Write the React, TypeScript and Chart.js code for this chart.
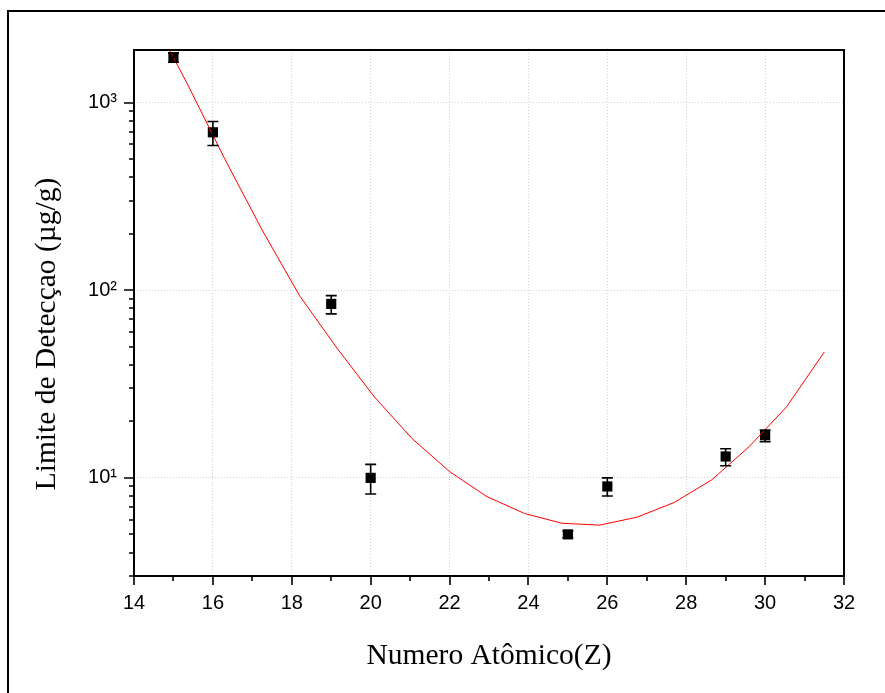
import React, { useEffect, useRef } from "react";
import { Chart, registerables } from "chart.js";

Chart.register(...registerables);

// Measured data: atomic number vs detection limit (µg/g)
const atomicNumbers = [15, 16, 19, 20, 25, 26, 29, 30];
const detectionLimits = [1740, 694, 84.5, 10, 5.0, 9.0, 13.0, 16.9];
const errorLow = [1640, 590, 74.8, 8.2, 4.8, 8.0, 11.6, 15.6];
const errorHigh = [1840, 792, 93.6, 11.8, 5.2, 10.0, 14.3, 18.0];

// Fitted curve (red)
const fitZ = [14.4, 15.35, 16.3, 17.25, 18.2, 19.15, 20.1, 21.05, 22.0, 22.95, 23.9, 24.85, 25.8, 26.75, 27.7, 28.65, 29.6, 30.55, 31.5];
const fitValues = [3020, 1259, 501, 209, 93.3, 49.0, 26.9, 16.2, 10.8, 7.94, 6.46, 5.73, 5.6, 6.17, 7.4, 9.77, 14.7, 24.0, 46.8];

// Axes
const xMin = 14;
const xMax = 32;
const xStep = 2;
const yMin = 3;
const yMax = 1905;
const yTickValues = [10, 100, 1000];
const yTickLabels = ["10\u00b9", "10\u00b2", "10\u00b3"];

const xTitle = "Numero Atômico(Z)";
const yTitle = "Limite de Detecçao (µg/g)";

const decorPlugin = {
  id: "decor",
  beforeDraw(chart: any) {
    const ctx = chart.ctx;
    ctx.save();
    ctx.fillStyle = "#ffffff";
    ctx.fillRect(0, 0, chart.width, chart.height);
    ctx.strokeStyle = "#000";
    ctx.lineWidth = 2;
    ctx.beginPath();
    ctx.moveTo(8, chart.height + 2);
    ctx.lineTo(8, 11);
    ctx.lineTo(chart.width + 2, 11);
    ctx.stroke();
    ctx.restore();
  },
  afterDatasetsDraw(chart: any) {
    const ctx = chart.ctx;
    const xs = chart.scales.x;
    const ys = chart.scales.y;
    ctx.save();
    ctx.strokeStyle = "#000";
    ctx.lineWidth = 1.6;
    const cap = 5.5;
    atomicNumbers.forEach((z, i) => {
      const px = xs.getPixelForValue(z);
      const yl = ys.getPixelForValue(errorLow[i]);
      const yh = ys.getPixelForValue(errorHigh[i]);
      ctx.beginPath();
      ctx.moveTo(px, yl);
      ctx.lineTo(px, yh);
      ctx.moveTo(px - cap, yl);
      ctx.lineTo(px + cap, yl);
      ctx.moveTo(px - cap, yh);
      ctx.lineTo(px + cap, yh);
      ctx.stroke();
    });
    ctx.restore();
  },
  afterDraw(chart: any) {
    const ctx = chart.ctx;
    const { left, right, top, bottom } = chart.chartArea;
    const xs = chart.scales.x;
    const ys = chart.scales.y;
    ctx.save();
    ctx.strokeStyle = "#000";
    ctx.lineWidth = 2;
    ctx.strokeRect(left, top, right - left, bottom - top);
    ctx.lineWidth = 1.6;
    ctx.beginPath();
    for (let v = xMin; v <= xMax; v += 1) {
      const px = Math.round(xs.getPixelForValue(v));
      const len = (v - xMin) % xStep === 0 ? 9 : 5;
      ctx.moveTo(px, bottom);
      ctx.lineTo(px, bottom + len);
    }
    for (let d = 0; d <= 4; d++) {
      for (let m = 1; m <= 9; m++) {
        const v = m * Math.pow(10, d);
        if (v < yMin || v > yMax) continue;
        const py = Math.round(ys.getPixelForValue(v));
        const len = m === 1 ? 10 : 5;
        ctx.moveTo(left, py);
        ctx.lineTo(left - len, py);
      }
    }
    ctx.stroke();

    // y-axis title
    ctx.translate(47, (top + bottom) / 2 + 21);
    ctx.rotate(-Math.PI / 2);
    ctx.fillStyle = "#000";
    ctx.font = "29.5px 'Liberation Serif'";
    ctx.textAlign = "center";
    ctx.textBaseline = "middle";
    ctx.fillText(yTitle, 0, 0);
    ctx.restore();
  },
};

export default function App() {
  const canvasRef = useRef<HTMLCanvasElement | null>(null);

  useEffect(() => {
    if (!canvasRef.current) return;
    const chart = new Chart(canvasRef.current, {
      type: "scatter",
      data: {
        datasets: [
          {
            label: "fit",
            data: fitZ.map((x, i) => ({ x, y: fitValues[i] })),
            showLine: true,
            borderColor: "#ff0000",
            borderWidth: 1,
            pointRadius: 0,
            tension: 0,
          } as any,
          {
            label: "data",
            data: atomicNumbers.map((x, i) => ({ x, y: detectionLimits[i] })),
            pointStyle: "rect",
            pointRadius: 7.2,
            backgroundColor: "#000",
            borderColor: "#000",
            borderWidth: 0,
            showLine: false,
          } as any,
        ],
      },
      options: {
        animation: false,
        responsive: false,
        devicePixelRatio: 1,
        layout: { padding: { top: 50, right: 41, left: 0, bottom: 0 } },
        plugins: { legend: { display: false }, tooltip: { enabled: false } },
        scales: {
          x: {
            type: "linear",
            min: xMin,
            max: xMax,
            afterFit: (s: any) => {
              s.height = 117;
            },
            ticks: {
              stepSize: xStep,
              color: "#000",
              padding: 15,
              font: { family: "Liberation Sans", size: 20 },
            },
            grid: {
              color: "#d2d2d2",
              lineWidth: 1,
              drawTicks: false,
            },
            border: { display: false, dash: [1, 2] },
            title: {
              display: true,
              text: xTitle,
              color: "#000",
              font: { family: "Liberation Serif", size: 29.5 },
              padding: { top: 0, bottom: 19 },
            },
          },
          y: {
            type: "logarithmic",
            min: yMin,
            max: yMax,
            afterFit: (s: any) => {
              s.width = 134;
            },
            afterBuildTicks: (s: any) => {
              s.ticks = yTickValues.map((v) => ({ value: v }));
            },
            ticks: {
              color: "#000",
              padding: 17,
              font: { family: "Liberation Sans", size: 20 },
              callback: (v: any) => {
                const idx = yTickValues.indexOf(Number(v));
                return idx >= 0 ? yTickLabels[idx] : "";
              },
            },
            grid: {
              color: "#d2d2d2",
              lineWidth: 1,
              drawTicks: false,
            },
            border: { display: false, dash: [1, 2] },
            title: { display: false },
          },
        },
      },
      plugins: [decorPlugin],
    });
    return () => chart.destroy();
  }, []);

  return (
    <div style={{ position: "fixed", left: 0, top: 0, width: 885, height: 693, overflow: "hidden", background: "#fff" }}>
      <canvas ref={canvasRef} width={885} height={693} style={{ display: "block", width: 885, height: 693 }} />
    </div>
  );
}
